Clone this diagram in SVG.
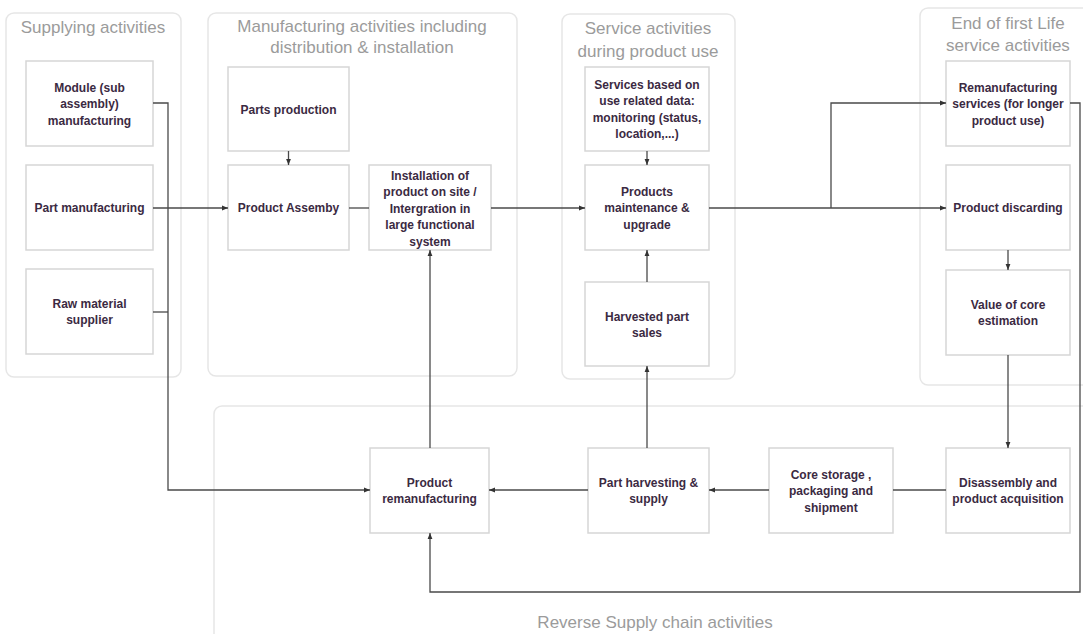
<svg xmlns="http://www.w3.org/2000/svg" width="1083" height="634" viewBox="0 0 1083 634">
<style>
.grp{fill:#fff;stroke:#e6e6e6;stroke-width:1.5}
.box{fill:#fff;stroke:#d6d6d6;stroke-width:1.5}
.gt{font-family:"Liberation Sans",Arial,sans-serif;font-size:17px;fill:#9b9b9b;text-anchor:middle}
.nt{font-family:"Liberation Sans",Arial,sans-serif;font-size:12px;font-weight:bold;fill:#3b2a42;text-anchor:middle}
.c{fill:none;stroke:#4a4a4a;stroke-width:1.3}
.ca{fill:none;stroke:#4a4a4a;stroke-width:1.3;marker-end:url(#ah)}
</style>
<defs>
<marker id="ah" viewBox="0 0 10 10" refX="10" refY="5" markerWidth="6" markerHeight="6" markerUnits="userSpaceOnUse" orient="auto">
<path d="M0,1 L10,5 L0,9 z" fill="#333"/>
</marker>
</defs>
<rect width="1083" height="634" fill="#fff"/>
<g id="groups">
<g id="g-supplying"><rect class="grp" x="6" y="13" width="175" height="364" rx="8"/><text class="gt" x="93" y="33">Supplying activities</text></g>
<g id="g-manufacturing"><rect class="grp" x="208" y="13" width="309" height="363" rx="8"/><text class="gt" x="362" y="32">Manufacturing activities including</text><text class="gt" x="362" y="53">distribution &amp; installation</text></g>
<g id="g-service"><rect class="grp" x="562" y="14" width="173" height="365" rx="8"/><text class="gt" x="648" y="34">Service activities</text><text class="gt" x="648" y="57">during product use</text></g>
<g id="g-eol"><rect class="grp" x="920" y="8" width="175" height="377" rx="8"/><text class="gt" x="1008" y="29">End of first Life</text><text class="gt" x="1008" y="51">service activities</text></g>
<g id="g-reverse"><rect class="grp" x="214" y="406" width="880" height="240" rx="8"/><text class="gt" x="655" y="628">Reverse Supply chain activities</text></g>
</g>
<g id="nodes">
<g id="n-module"><rect class="box" x="26" y="61" width="127" height="85"/><text class="nt"><tspan x="89.5" y="91.5">Module (sub</tspan><tspan x="89.5" y="108">assembly)</tspan><tspan x="89.5" y="124.5">manufacturing</tspan></text></g>
<g id="n-partman"><rect class="box" x="26" y="165" width="127" height="85"/><text class="nt" x="89.5" y="212">Part manufacturing</text></g>
<g id="n-raw"><rect class="box" x="26" y="269" width="127" height="85"/><text class="nt"><tspan x="89.5" y="307.5">Raw material</tspan><tspan x="89.5" y="324">supplier</tspan></text></g>
<g id="n-partsprod"><rect class="box" x="228" y="67" width="121" height="84"/><text class="nt" x="288.5" y="113.5">Parts production</text></g>
<g id="n-assembly"><rect class="box" x="228" y="165" width="121" height="85"/><text class="nt" x="288.5" y="212">Product Assemby</text></g>
<g id="n-install"><rect class="box" x="369" y="165" width="122" height="85"/><text class="nt"><tspan x="430" y="179.5">Installation of</tspan><tspan x="430" y="196">product on site /</tspan><tspan x="430" y="212.5">Intergration in</tspan><tspan x="430" y="229">large functional</tspan><tspan x="430" y="245.5">system</tspan></text></g>
<g id="n-services"><rect class="box" x="585" y="67" width="124" height="84"/><text class="nt"><tspan x="647" y="88.5">Services based on</tspan><tspan x="647" y="105">use related data:</tspan><tspan x="647" y="121.5">monitoring (status,</tspan><tspan x="647" y="138">location,...)</tspan></text></g>
<g id="n-maint"><rect class="box" x="585" y="165" width="124" height="85"/><text class="nt"><tspan x="647" y="195.5">Products</tspan><tspan x="647" y="212">maintenance &amp;</tspan><tspan x="647" y="228.5">upgrade</tspan></text></g>
<g id="n-harvested"><rect class="box" x="585" y="282" width="124" height="84"/><text class="nt"><tspan x="647" y="320.5">Harvested part</tspan><tspan x="647" y="337">sales</tspan></text></g>
<g id="n-remserv"><rect class="box" x="946" y="61" width="124" height="85"/><text class="nt"><tspan x="1008" y="91.5">Remanufacturing</tspan><tspan x="1008" y="108">services (for longer</tspan><tspan x="1008" y="124.5">product use)</tspan></text></g>
<g id="n-discard"><rect class="box" x="946" y="165" width="124" height="85"/><text class="nt" x="1008" y="212">Product discarding</text></g>
<g id="n-value"><rect class="box" x="946" y="270" width="124" height="85"/><text class="nt"><tspan x="1008" y="308.5">Value of core</tspan><tspan x="1008" y="325">estimation</tspan></text></g>
<g id="n-disassembly"><rect class="box" x="946" y="448" width="124" height="85"/><text class="nt"><tspan x="1008" y="486.5">Disassembly and</tspan><tspan x="1008" y="503">product acquisition</tspan></text></g>
<g id="n-core"><rect class="box" x="769" y="448" width="124" height="85"/><text class="nt"><tspan x="831" y="478.5">Core storage ,</tspan><tspan x="831" y="495">packaging and</tspan><tspan x="831" y="511.5">shipment</tspan></text></g>
<g id="n-harvesting"><rect class="box" x="588" y="448" width="121" height="85"/><text class="nt"><tspan x="648.5" y="486.5">Part harvesting &amp;</tspan><tspan x="648.5" y="503">supply</tspan></text></g>
<g id="n-reman"><rect class="box" x="370" y="448" width="119" height="85"/><text class="nt"><tspan x="429.5" y="486.5">Product</tspan><tspan x="429.5" y="503">remanufacturing</tspan></text></g>
</g>
<g id="connectors">
<path class="ca" d="M153,103 H168 V490 H370"/>
<path class="c" d="M153,312 H168"/>
<path class="ca" d="M153,208 H228"/>
<path class="ca" d="M288.5,151 V165"/>
<path class="c" d="M349,208 H369"/>
<path class="ca" d="M491,208 H585"/>
<path class="ca" d="M430,448 V250"/>
<path class="ca" d="M647,151 V165"/>
<path class="ca" d="M647,282 V250"/>
<path class="ca" d="M647,448 V366"/>
<path class="ca" d="M709,208 H946"/>
<path class="ca" d="M831,208 V103 H946"/>
<path class="ca" d="M1008,250 V270"/>
<path class="ca" d="M1008,355 V448"/>
<path class="c" d="M946,490 H893"/>
<path class="ca" d="M769,490 H709"/>
<path class="ca" d="M588,490 H489"/>
<path class="ca" d="M1070,103 H1080 V592 H430 V533"/>
</g>
</svg>
